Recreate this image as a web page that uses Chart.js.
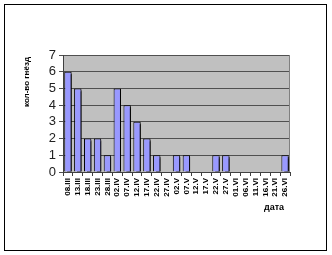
<!DOCTYPE html>
<html lang="ru">
<head>
    <meta charset="UTF-8">
    <title>кол-во гнёзд</title>
    <script src="https://cdn.jsdelivr.net/npm/chart.js"></script>
    <style>
        body {
            margin: 0;
            background: #ffffff;
        }
        #wrap {
            width: 332px;
            height: 255px;
        }
    </style>
</head>
<body>
    <div id="wrap"><canvas id="nests" width="332" height="255"></canvas></div>

    <script>
        const dates = ['08.III', '13.III', '18.III', '23.III', '28.III', '02.IV', '07.IV', '12.IV',
            '17.IV', '22.IV', '27.IV', '02.V', '07.V', '12.V', '17.V', '22.V', '27.V',
            '01.VI', '06.VI', '11.VI', '16.VI', '21.VI', '26.VI'];
        const nestCounts = [6, 5, 2, 2, 1, 5, 4, 3, 2, 1, 0, 1, 1, 0, 0, 1, 1, 0, 0, 0, 0, 0, 1];
        const yTitle = 'кол-во гнёзд';
        const xTitle = 'дата';

        // серый фон области построения, рамки и подписи осей
        const excelLook = {
            id: 'excelLook',
            beforeDraw(chart) {
                const { ctx, chartArea: a } = chart;
                ctx.save();
                ctx.fillStyle = '#ffffff';
                ctx.fillRect(0, 0, chart.width, chart.height);
                ctx.strokeStyle = '#000000';
                ctx.lineWidth = 1;
                ctx.strokeRect(4.5, 4.5, 322, 246);
                ctx.fillStyle = '#c0c0c0';
                ctx.fillRect(a.left, a.top, a.right - a.left, a.bottom - a.top);
                ctx.restore();
            },
            afterDraw(chart) {
                const { ctx, chartArea: a } = chart;
                ctx.save();
                ctx.strokeStyle = '#808080';
                ctx.lineWidth = 1;
                ctx.beginPath();
                ctx.moveTo(a.right - 0.5, a.top);
                ctx.lineTo(a.right - 0.5, a.bottom);
                ctx.stroke();
                ctx.fillStyle = '#000000';
                ctx.font = 'bold 8px "Liberation Sans", Arial, sans-serif';
                ctx.textAlign = 'center';
                ctx.textBaseline = 'middle';
                ctx.translate(27, 82);
                ctx.rotate(-Math.PI / 2);
                ctx.fillText(yTitle, 0, 0);
                ctx.restore();
                ctx.save();
                ctx.fillStyle = '#000000';
                ctx.font = 'bold 9px "Liberation Sans", Arial, sans-serif';
                ctx.textAlign = 'center';
                ctx.textBaseline = 'middle';
                ctx.fillText(xTitle, 274, 208);
                ctx.restore();
            }
        };

        // тень у столбиков
        const barShadow = {
            id: 'barShadow',
            beforeDatasetsDraw(chart) {
                const ctx = chart.ctx;
                ctx.save();
                ctx.shadowColor = '#000000';
                ctx.shadowOffsetX = 3;
                ctx.shadowOffsetY = 2;
                ctx.shadowBlur = 0;
            },
            afterDatasetsDraw(chart) {
                chart.ctx.restore();
            }
        };

        new Chart(document.getElementById('nests'), {
            type: 'bar',
            data: {
                labels: dates,
                datasets: [{
                    data: nestCounts,
                    backgroundColor: '#9999ff',
                    borderColor: '#000000',
                    borderWidth: 1,
                    barPercentage: 0.75,
                    categoryPercentage: 1
                }]
            },
            options: {
                responsive: false,
                animation: false,
                devicePixelRatio: 1,
                layout: {
                    padding: { left: 0, top: 55, right: 42, bottom: 0 }
                },
                plugins: {
                    legend: { display: false },
                    tooltip: { enabled: false }
                },
                scales: {
                    x: {
                        offset: true,
                        grid: {
                            offset: true,
                            drawOnChartArea: false,
                            drawTicks: true,
                            tickLength: 4,
                            color: '#404040'
                        },
                        border: { color: '#404040' },
                        ticks: {
                            autoSkip: false,
                            minRotation: 90,
                            maxRotation: 90,
                            padding: 2,
                            color: '#000000',
                            font: { family: '"Liberation Sans", Arial, sans-serif', size: 8, weight: 'bold' }
                        },
                        afterFit(scale) { scale.height = 83; }
                    },
                    y: {
                        min: 0,
                        max: 7,
                        ticks: {
                            stepSize: 1,
                            autoSkip: false,
                            padding: 3,
                            color: '#222222',
                            font: { family: '"Liberation Sans", Arial, sans-serif', size: 13 }
                        },
                        grid: {
                            color: '#505050',
                            tickLength: 4
                        },
                        border: { color: '#404040' },
                        afterFit(scale) { scale.width = 63; }
                    }
                }
            },
            plugins: [excelLook, barShadow]
        });
    </script>
</body>
</html>
